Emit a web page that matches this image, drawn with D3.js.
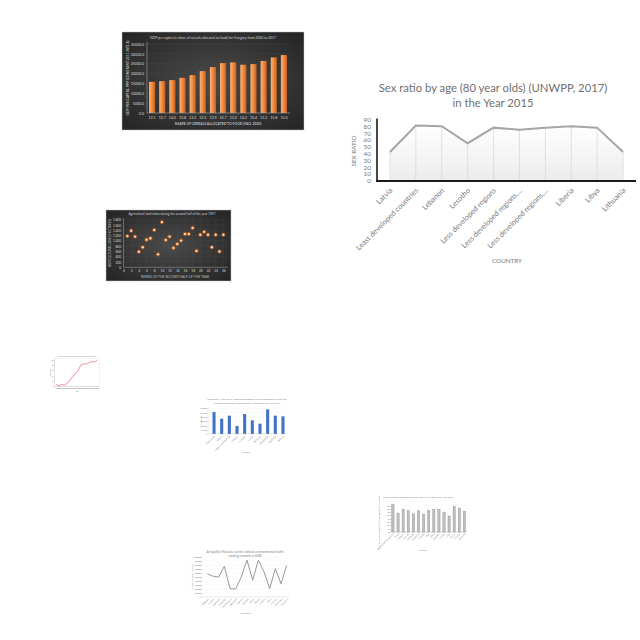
<!DOCTYPE html>
<html><head><meta charset="utf-8">
<script src="https://cdn.jsdelivr.net/npm/d3@7"></script>
<style>html,body{margin:0;padding:0;background:#fff;}svg{display:block;}</style>
</head><body>
<svg id="c" width="640" height="640"></svg>
<script>
// ---------- DATA ----------
const sexCountries = ["Latvia","Least developed countries","Lebanon","Lesotho","Less developed regions","Less developed regions,...","Less developed regions,...","Liberia","Libya","Lithuania"];
const sexRatio = [42,81,80,55,78,75,78,80,78,42];
const sexTicks = [0,10,20,30,40,50,60,70,80,90];

const gdpCategories = ["13.1","13.7","14.0","13.8","13.3","13.5","13.9","14.7","13.2","14.2","15.4","15.3","15.8","15.0"];
const gdpValues = [15800,16150,16700,17850,19200,21250,23300,25300,25700,24500,24800,26400,28200,29400];
const gdpTicks = [0,5000,10000,15000,20000,25000,30000,35000];

const landWeeks = [1,2,3,4,5,6,7,8,9,10,11,12,13,14,15,16,17,18,19,20,21,22,23,24,25,26];
const landValues = [1180,1380,1160,590,760,1040,1100,1410,490,1710,1030,1160,730,880,1010,1260,1260,1490,620,1230,1340,1230,760,1230,600,1230];
const landTicks = [0,200,400,600,800,1000,1200,1400,1600,1800];
const weekTicks = [0,2,4,6,8,10,12,14,16,18,20,22,24,26];

const shareYears = ["2000","2001","2002","2003","2004","2005","2006","2007","2008","2009","2010","2011","2012","2013","2014","2015"];
const shareValues = [6,1,6,3,10,23,36,49,59,81,85,85,90,94,92,100];

const blueCountries = ["Afghanistan","Albania","Antigua and Barbuda","Armenia","Australia","Austria","Bahamas","Bangladesh","Barbados","Belarus"];
const blueValues = [66,46,55,24,60,41,31,74,55,53];

const grayCountries = ["Bosnia and Herzegovina","Brazil","Bulgaria","Burundi","Cambodia","Cameroon","Canada","Chile","China","Colombia","Croatia","Cuba","Cyprus","Czechia","Denmark"];
const grayValues = [82,57,68,65,55,64,54,65,68,68,59,48,77,72,63];

const airCountries = ["Alabama","Arizona","California","Colorado","Connecticut","Delaware","Florida","Georgia","Idaho","Illinois","Indiana","Iowa","Kansas","Kentucky","Louisiana"];
const airValues = [58,52,50,77,21,20,50,92,42,92,63,21,71,33,79];

// ---------- DRAW ----------
const svg = d3.select("#c");
svg.append("rect").attr("width",640).attr("height",640).attr("fill","#fff");
const defs = svg.append("defs");
const F = "Lato, 'Open Sans', sans-serif";

// ===== Main chart: Sex ratio =====
(function(){
  const g = svg.append("g");
  const x = d3.scaleBand().domain(sexCountries.map((d,i)=>i)).range([377,636]);
  const y = d3.scaleLinear().domain([0,90]).range([180.5,119.5]);
  const cx = i => x(i)+x.bandwidth()/2;

  const grad = defs.append("linearGradient").attr("id","areaG").attr("x1",0).attr("y1",0).attr("x2",0).attr("y2",1);
  grad.append("stop").attr("offset","0%").attr("stop-color","#ffffff");
  grad.append("stop").attr("offset","100%").attr("stop-color","#ececec");
  g.append("path").datum(sexRatio)
    .attr("d", d3.area().x((d,i)=>cx(i)).y0(y(0)).y1(d=>y(d)))
    .attr("fill","url(#areaG)");

  g.selectAll("line.drop").data(sexRatio).join("line")
    .attr("x1",(d,i)=>cx(i)).attr("x2",(d,i)=>cx(i))
    .attr("y1",d=>y(d)).attr("y2",y(0))
    .attr("stroke","#d9d9d9").attr("stroke-width",0.8);

  g.append("path").datum(sexRatio)
    .attr("d", d3.line().x((d,i)=>cx(i)).y(d=>y(d)))
    .attr("fill","none").attr("stroke","#a5a5a5").attr("stroke-width",2);

  const ya = g.append("g").attr("transform","translate(377,0)")
    .call(d3.axisLeft(y).tickValues(sexTicks).tickSize(0).tickPadding(6));
  ya.select(".domain").remove();
  ya.selectAll("text").attr("font-family",F).attr("font-size",6.4).attr("fill","#7a7a7a");
  g.append("line").attr("x1",377).attr("x2",377).attr("y1",y(90)-1).attr("y2",181.5)
    .attr("stroke","#1a1a1a").attr("stroke-width",1.6);

  const xa = g.append("g").attr("transform","translate(0,181)")
    .call(d3.axisBottom(x).tickFormat(i=>sexCountries[i]).tickSize(0).tickPadding(0));
  xa.select(".domain").remove();
  xa.selectAll("text").attr("font-family",F).attr("font-size",7.4).attr("fill","#7a7a7a")
    .attr("text-anchor","end").attr("dy",0).attr("y",0)
    .attr("transform","translate(3,10) rotate(-45)");
  g.append("line").attr("x1",376).attr("x2",636).attr("y1",181).attr("y2",181)
    .attr("stroke","#1a1a1a").attr("stroke-width",2);

  g.append("text").attr("x",493).attr("y",92).attr("text-anchor","middle")
    .attr("font-family",F).attr("font-size",11.3).attr("fill","#707070")
    .text("Sex ratio by age (80 year olds) (UNWPP, 2017)");
  g.append("text").attr("x",493).attr("y",107).attr("text-anchor","middle")
    .attr("font-family",F).attr("font-size",11.3).attr("fill","#707070")
    .text("in the Year 2015");
  g.append("text").attr("transform","translate(356,151) rotate(-90)").attr("text-anchor","middle")
    .attr("font-family",F).attr("font-size",6.3).attr("fill","#7a7a7a").text("SEX RATIO");
  g.append("text").attr("x",507).attr("y",263).attr("text-anchor","middle")
    .attr("font-family",F).attr("font-size",6.3).attr("fill","#7a7a7a").text("COUNTRY");
})();

// ===== Chart 1: GDP dark bars =====
(function(){
  const g = svg.append("g");
  const rg = defs.append("radialGradient").attr("id","darkBg").attr("cx","50%").attr("cy","50%").attr("r","70%");
  rg.append("stop").attr("offset","0%").attr("stop-color","#4a4a4a");
  rg.append("stop").attr("offset","100%").attr("stop-color","#242424");
  g.append("rect").attr("x",122).attr("y",32).attr("width",182).attr("height",98)
    .attr("fill","url(#darkBg)").attr("stroke","#bfbfbf").attr("stroke-width",0.5);
  const bg = defs.append("linearGradient").attr("id","orangeG").attr("x1",0).attr("x2",1).attr("y1",0).attr("y2",0);
  bg.append("stop").attr("offset","0%").attr("stop-color","#f9b47a");
  bg.append("stop").attr("offset","50%").attr("stop-color","#f08a3c");
  bg.append("stop").attr("offset","100%").attr("stop-color","#c9601e");
  const x = d3.scaleBand().domain(gdpCategories.map((d,i)=>i)).range([147,289]).paddingInner(0.4).paddingOuter(0.2);
  const y = d3.scaleLinear().domain([0,35000]).range([113,44]);
  g.selectAll("line.gr").data(gdpTicks.slice(1)).join("line")
    .attr("x1",147).attr("x2",289).attr("y1",d=>y(d)).attr("y2",d=>y(d))
    .attr("stroke","#4d4d4d").attr("stroke-width",0.4);
  g.selectAll("rect.bar").data(gdpValues).join("rect")
    .attr("x",(d,i)=>x(i)).attr("width",x.bandwidth())
    .attr("y",d=>y(d)).attr("height",d=>y(0)-y(d)).attr("fill","url(#orangeG)");
  g.append("line").attr("x1",147).attr("x2",147).attr("y1",42).attr("y2",113).attr("stroke","#a6a6a6").attr("stroke-width",0.6);
  g.append("line").attr("x1",147).attr("x2",290).attr("y1",113).attr("y2",113).attr("stroke","#a6a6a6").attr("stroke-width",0.6);
  const ya = g.append("g").attr("transform","translate(147,0)").call(d3.axisLeft(y).tickValues(gdpTicks).tickSize(0).tickPadding(3).tickFormat(d3.format(".1f")));
  ya.select(".domain").remove();
  ya.selectAll("text").attr("font-family",F).attr("font-size",3.6).attr("fill","#d9d9d9");
  const xa = g.append("g").attr("transform","translate(0,113)").call(d3.axisBottom(x).tickFormat(i=>gdpCategories[i]).tickSize(0).tickPadding(3));
  xa.select(".domain").remove();
  xa.selectAll("text").attr("font-family",F).attr("font-size",3.6).attr("fill","#d9d9d9");
  g.append("text").attr("x",213).attr("y",38.5).attr("text-anchor","middle").attr("font-family",F).attr("font-size",3.4).attr("fill","#d0d0d0")
    .text("GDP per capita (in share of cereals allocated to food) for Hungary from 2000 to 2017");
  g.append("text").attr("x",218).attr("y",125).attr("text-anchor","middle").attr("font-family",F).attr("font-size",3.4).attr("font-weight","bold").attr("fill","#bfbfbf")
    .text("SHARE OF CEREALS ALLOCATED TO FOOD (FAO, 2020)");
  g.append("text").attr("transform","translate(128.5,78) rotate(-90)").attr("text-anchor","middle").attr("font-family",F).attr("font-size",3.4).attr("font-weight","bold").attr("fill","#bfbfbf")
    .text("GDP PER CAPITA, PPP (CONSTANT 2011 INTL $)");
})();

// ===== Chart 2: dark scatter =====
(function(){
  const g = svg.append("g");
  g.append("rect").attr("x",106).attr("y",210).attr("width",125).attr("height",71)
    .attr("fill","url(#darkBg)").attr("stroke","#bfbfbf").attr("stroke-width",0.5);
  const x = d3.scaleLinear().domain([0,27]).range([123.5,227.2]);
  const y = d3.scaleLinear().domain([0,1800]).range([267.3,219.7]);
  g.selectAll("line.gy").data(landTicks.slice(1)).join("line")
    .attr("x1",123.5).attr("x2",227.2).attr("y1",d=>y(d)).attr("y2",d=>y(d)).attr("stroke","#4f4f4f").attr("stroke-width",0.3);
  g.selectAll("line.gx").data(weekTicks.slice(1)).join("line")
    .attr("y1",219.7).attr("y2",267.3).attr("x1",d=>x(d)).attr("x2",d=>x(d)).attr("stroke","#4f4f4f").attr("stroke-width",0.3);
  g.append("line").attr("x1",123.5).attr("x2",123.5).attr("y1",218).attr("y2",267.3).attr("stroke","#a6a6a6").attr("stroke-width",0.5);
  g.append("line").attr("x1",123.5).attr("x2",228).attr("y1",267.3).attr("y2",267.3).attr("stroke","#a6a6a6").attr("stroke-width",0.5);
  g.selectAll("circle.h").data(landValues).join("circle")
    .attr("cx",(d,i)=>x(landWeeks[i])).attr("cy",d=>y(d)).attr("r",2.3).attr("fill","#c55a11").attr("opacity",0.6);
  g.selectAll("circle.p").data(landValues).join("circle")
    .attr("cx",(d,i)=>x(landWeeks[i])).attr("cy",d=>y(d)).attr("r",1.2).attr("fill","#fbd3b0");
  const ya = g.append("g").attr("transform","translate(123.5,0)").call(d3.axisLeft(y).tickValues(landTicks).tickSize(0).tickPadding(2.5));
  ya.select(".domain").remove();
  ya.selectAll("text").attr("font-family",F).attr("font-size",3.2).attr("fill","#d9d9d9");
  const xa = g.append("g").attr("transform","translate(0,267.3)").call(d3.axisBottom(x).tickValues(weekTicks).tickSize(0).tickPadding(2.5));
  xa.select(".domain").remove();
  xa.selectAll("text").attr("font-family",F).attr("font-size",3.2).attr("fill","#d9d9d9");
  g.append("text").attr("x",172).attr("y",214.5).attr("text-anchor","middle").attr("font-family",F).attr("font-size",3.2).attr("fill","#d0d0d0")
    .text("Agricultural land index during the second half of the year 1997");
  g.append("text").attr("x",175).attr("y",277.5).attr("text-anchor","middle").attr("font-family",F).attr("font-size",3.3).attr("fill","#bfbfbf")
    .text("WEEKS OF THE SECOND HALF OF THE YEAR");
  g.append("text").attr("transform","translate(110.5,243) rotate(-90)").attr("text-anchor","middle").attr("font-family",F).attr("font-size",3).attr("fill","#bfbfbf")
    .text("AGRICULTURAL LAND (HECTARES)");
})();

// ===== Chart 3: tiny red line =====
(function(){
  const g = svg.append("g");
  const x = d3.scalePoint().domain(shareYears).range([56.3,97.3]);
  const y = d3.scaleLinear().domain([0,100]).range([386,360]);
  g.append("rect").attr("x",54.5).attr("y",358.5).attr("width",45).attr("height",28).attr("fill","none").attr("stroke","#e3e3e3").attr("stroke-width",0.4);
  g.append("line").attr("x1",54.5).attr("x2",54.5).attr("y1",358.5).attr("y2",386.5).attr("stroke","#bdbdbd").attr("stroke-width",0.4);
  g.append("line").attr("x1",54.5).attr("x2",99.5).attr("y1",386.5).attr("y2",386.5).attr("stroke","#bdbdbd").attr("stroke-width",0.4);
  g.append("path").datum(shareValues).attr("d",d3.line().x((d,i)=>x(shareYears[i])).y(d=>y(d)))
    .attr("fill","none").attr("stroke","#e8607a").attr("stroke-width",0.7);
  const xa = g.append("g").attr("transform","translate(0,386.5)").call(d3.axisBottom(x).tickSize(0).tickPadding(1.5));
  xa.select(".domain").remove();
  xa.selectAll("text").attr("font-family",F).attr("font-size",1.6).attr("fill","#8c8c8c");
  const ya = g.append("g").attr("transform","translate(54.5,0)").call(d3.axisLeft(y).ticks(5).tickSize(0).tickPadding(1));
  ya.select(".domain").remove();
  ya.selectAll("text").attr("font-family",F).attr("font-size",1.6).attr("fill","#8c8c8c");
  g.append("text").attr("x",77).attr("y",357).attr("text-anchor","middle").attr("font-family",F).attr("font-size",1.8).attr("fill","#8c8c8c")
    .text("Share of cereals allocated to food, 2000 to 2015");
  g.append("text").attr("x",77).attr("y",392).attr("text-anchor","middle").attr("font-family",F).attr("font-size",1.8).attr("fill","#8c8c8c").text("Year");
  g.append("text").attr("transform","translate(51,373) rotate(-90)").attr("text-anchor","middle").attr("font-family",F).attr("font-size",1.8).attr("fill","#8c8c8c").text("Share (%)");
})();

// ===== Chart 4: blue bars =====
(function(){
  const g = svg.append("g");
  const x = d3.scaleBand().domain(blueCountries).range([210.2,286.8]).paddingInner(0.6).paddingOuter(0.3);
  const y = d3.scaleLinear().domain([0,78]).range([434,408]);
  g.selectAll("line.gr").data([13,26,39,52,65,78]).join("line")
    .attr("x1",208).attr("x2",287).attr("y1",d=>y(d)).attr("y2",d=>y(d)).attr("stroke","#ececec").attr("stroke-width",0.3);
  g.selectAll("rect.b").data(blueValues).join("rect")
    .attr("x",(d,i)=>x(blueCountries[i])).attr("width",x.bandwidth())
    .attr("y",d=>y(d)).attr("height",d=>y(0)-y(d)).attr("fill","#4472c4");
  g.append("line").attr("x1",208).attr("x2",208).attr("y1",407).attr("y2",434).attr("stroke","#bfbfbf").attr("stroke-width",0.4);
  g.append("line").attr("x1",208).attr("x2",287).attr("y1",434).attr("y2",434).attr("stroke","#bfbfbf").attr("stroke-width",0.4);
  const ya = g.append("g").attr("transform","translate(208,0)").call(d3.axisLeft(y).tickValues([0,13,26,39,52,65,78]).tickFormat(d=>d3.format(",")(d*1000)).tickSize(0).tickPadding(1));
  ya.select(".domain").remove();
  ya.selectAll("text").attr("font-family",F).attr("font-size",2.2).attr("fill","#7f7f7f");
  const xa = g.append("g").attr("transform","translate(0,434)").call(d3.axisBottom(x).tickSize(0).tickPadding(0));
  xa.select(".domain").remove();
  xa.selectAll("text").attr("font-family",F).attr("font-size",2.3).attr("fill","#7f7f7f")
    .attr("text-anchor","end").attr("y",0).attr("dy",0).attr("transform","translate(1,2.5) rotate(-45)");
  g.append("text").attr("x",247).attr("y",400).attr("text-anchor","middle").attr("font-family",F).attr("font-size",2.4).attr("fill","#7f7f7f")
    .text("Prevalence, 1990-2015: Undernourishment (% of the population) in the year");
  g.append("text").attr("x",247).attr("y",403.5).attr("text-anchor","middle").attr("font-family",F).attr("font-size",2.4).attr("fill","#7f7f7f")
    .text("in different countries, measured per 100,000 for the Year 2015");
  g.append("text").attr("x",246).attr("y",453).attr("text-anchor","middle").attr("font-family",F).attr("font-size",2.3).attr("fill","#7f7f7f").text("Country");
  g.append("text").attr("transform","translate(202,421) rotate(-90)").attr("text-anchor","middle").attr("font-family",F).attr("font-size",2.3).attr("fill","#7f7f7f").text("Prevalence");
})();

// ===== Chart 5: gray bars =====
(function(){
  const g = svg.append("g");
  const x = d3.scaleBand().domain(grayCountries).range([390.8,466.6]).paddingInner(0.55).paddingOuter(0.2);
  const y = d3.scaleLinear().domain([0,82]).range([532,504.7]);
  g.selectAll("line.gr").data([10,20,30,40,50,60,70,80]).join("line")
    .attr("x1",392).attr("x2",467).attr("y1",d=>y(d)).attr("y2",d=>y(d)).attr("stroke","#f0f0f0").attr("stroke-width",0.3);
  g.selectAll("rect.b").data(grayValues).join("rect")
    .attr("x",(d,i)=>x(grayCountries[i])).attr("width",x.bandwidth())
    .attr("y",d=>y(d)).attr("height",d=>y(0)-y(d)).attr("fill","#bfbfbf").attr("stroke","#7f7f7f").attr("stroke-width",0.3);
  g.append("line").attr("x1",392).attr("x2",392).attr("y1",503).attr("y2",532).attr("stroke","#a6a6a6").attr("stroke-width",0.5);
  g.append("line").attr("x1",392).attr("x2",467).attr("y1",532).attr("y2",532).attr("stroke","#a6a6a6").attr("stroke-width",0.5);
  const ya = g.append("g").attr("transform","translate(392,0)").call(d3.axisLeft(y).tickValues([0,10,20,30,40,50,60,70,80]).tickFormat(d=>d3.format(".1f")(d)).tickSize(0).tickPadding(1));
  ya.select(".domain").remove();
  ya.selectAll("text").attr("font-family",F).attr("font-size",2).attr("fill","#7f7f7f");
  const xa = g.append("g").attr("transform","translate(0,532)").call(d3.axisBottom(x).tickSize(0).tickPadding(0));
  xa.select(".domain").remove();
  xa.selectAll("text").attr("font-family",F).attr("font-size",2.2).attr("fill","#7f7f7f")
    .attr("text-anchor","end").attr("y",0).attr("dy",0).attr("transform","translate(1,2) rotate(-45)");
  g.append("text").attr("x",418).attr("y",497.5).attr("text-anchor","middle").attr("font-family",F).attr("font-size",2.3).attr("fill","#7f7f7f")
    .text("Share of cereals allocated to animal feed (FAO, 2020) in the Year 2013");
  g.append("text").attr("x",423).attr("y",551).attr("text-anchor","middle").attr("font-family",F).attr("font-size",2.2).attr("fill","#7f7f7f").text("Country");
  g.append("text").attr("transform","translate(380,523) rotate(-90)").attr("text-anchor","middle").attr("font-family",F).attr("font-size",2.2).attr("fill","#7f7f7f")
    .text("Share of cereals allocated to animal feed (FAO, 2020) (%)");
})();

// ===== Chart 6: gray line =====
(function(){
  const g = svg.append("g");
  const x = d3.scalePoint().domain(airCountries).range([207.3,286.7]);
  const y = d3.scaleLinear().domain([0,100]).range([597,557]);
  const yt = [0,10,20,30,40,50,60,70,80,90,100];
  g.selectAll("line.gr").data(yt.slice(1)).join("line")
    .attr("x1",203).attr("x2",289).attr("y1",d=>y(d)).attr("y2",d=>y(d)).attr("stroke","#eeeeee").attr("stroke-width",0.3);
  g.append("line").attr("x1",203).attr("x2",289).attr("y1",597).attr("y2",597).attr("stroke","#bfbfbf").attr("stroke-width",0.4);
  g.append("path").datum(airValues).attr("d",d3.line().x((d,i)=>x(airCountries[i])).y(d=>y(d)))
    .attr("fill","none").attr("stroke","#8c8c8c").attr("stroke-width",0.9);
  const ya = g.append("g").attr("transform","translate(203,0)").call(d3.axisLeft(y).tickValues(yt).tickFormat(d=>d*10000).tickSize(0).tickPadding(1));
  ya.select(".domain").remove();
  ya.selectAll("text").attr("font-family",F).attr("font-size",2.2).attr("fill","#7f7f7f");
  const xa = g.append("g").attr("transform","translate(0,597)").call(d3.axisBottom(x).tickSize(0).tickPadding(0));
  xa.select(".domain").remove();
  xa.selectAll("text").attr("font-family",F).attr("font-size",2.3).attr("fill","#7f7f7f")
    .attr("text-anchor","end").attr("y",0).attr("dy",0).attr("transform","translate(1,2.5) rotate(-45)");
  g.append("text").attr("x",245).attr("y",553).attr("text-anchor","middle").attr("font-family",F).attr("font-size",3).attr("fill","#7f7f7f")
    .text("Air quality: Measures on the national environmental health");
  g.append("text").attr("x",245).attr("y",557).attr("text-anchor","middle").attr("font-family",F).attr("font-size",3).attr("fill","#7f7f7f")
    .text("tracking network in 2008");
  g.append("text").attr("x",246).attr("y",614).attr("text-anchor","middle").attr("font-family",F).attr("font-size",2.4).attr("fill","#7f7f7f").text("Countries");
  g.append("text").attr("transform","translate(193,577) rotate(-90)").attr("text-anchor","middle").attr("font-family",F).attr("font-size",2.3).attr("fill","#7f7f7f").text("Number of measurements");
})();
</script>
</body></html>
